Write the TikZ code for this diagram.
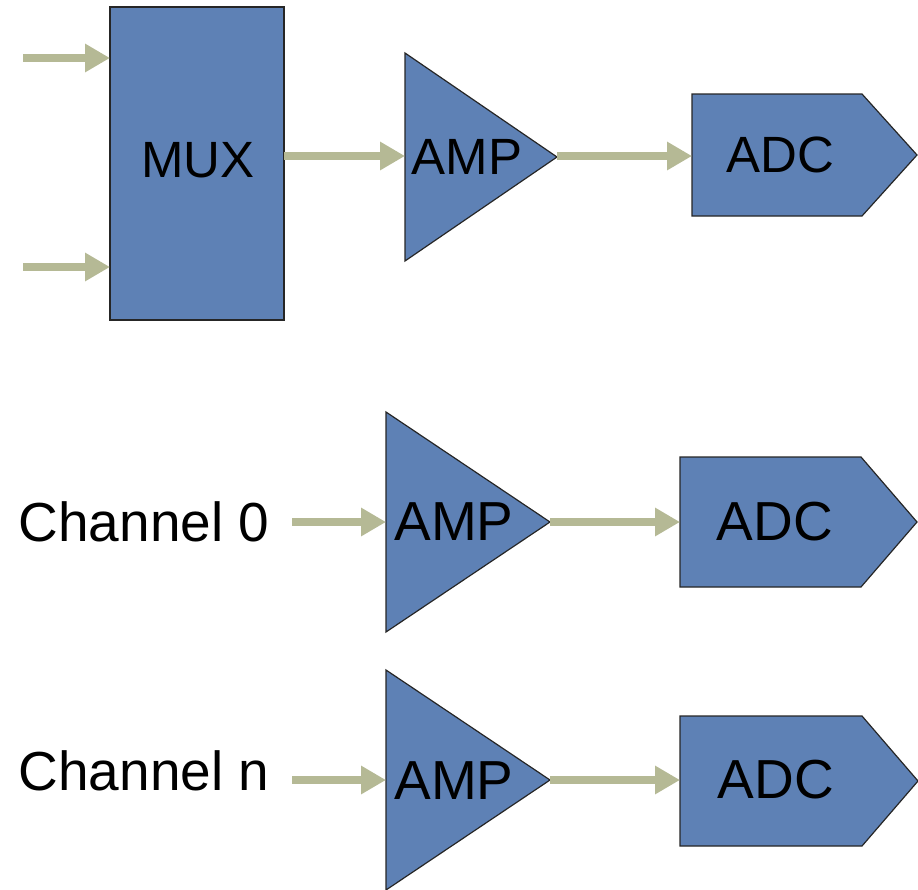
\documentclass[tikz,border=0pt]{standalone}
\usepackage{fontspec}
\setmainfont{Liberation Sans}
\usetikzlibrary{arrows.meta}
\definecolor{blockblue}{RGB}{94,129,181}
\definecolor{wire}{RGB}{181,185,149}
\tikzset{
  block/.style={fill=blockblue, draw=black!85, line width=1.2pt, line join=miter},
  wirearrow/.style={draw=wire, line width=8pt, -{Triangle[length=25pt,width=27pt]}},
  lblsmall/.style={inner sep=0pt, anchor=center, font=\fontsize{51}{60}\selectfont},
  lblbig/.style={inner sep=0pt, anchor=center, font=\fontsize{55}{64}\selectfont},
}
\begin{document}
\begin{tikzpicture}[x=1pt,y=-1pt]
\useasboundingbox (0,0) rectangle (918,889);

% ---- multiplexed chain ----
\draw[block] (110,7) rectangle (284,320);
\node[lblsmall] (mux) at (198,160) {MUX};
\coordinate (src1) at (23,58);
\coordinate (src2) at (23,267);
\coordinate (muxin1) at (110,58);
\coordinate (muxin2) at (110,267);
\coordinate (muxout) at (284,156);

\draw[block] (405,53) -- (405,261) -- (557,157) -- cycle;
\node[lblsmall] (amp1) at (467,157) {AMP};
\coordinate (amp1in) at (405,156);
\coordinate (amp1out) at (557,156);

\draw[block] (692,94) -- (862,94) -- (917,155) -- (862,216) -- (692,216) -- cycle;
\node[lblsmall] (adc1) at (780,155) {ADC};
\coordinate (adc1in) at (692,156);

\draw[wirearrow] (src1) -- (muxin1);
\draw[wirearrow] (src2) -- (muxin2);
\draw[wirearrow] (muxout) -- (amp1in);
\draw[wirearrow] (amp1out) -- (adc1in);

% ---- channel 0 ----
\node[lblbig] (ch0) at (144,522) {Channel 0};
\coordinate (ch0out) at (292,522);

\draw[block] (386,412) -- (386,632) -- (550,522) -- cycle;
\node[lblbig] (amp2) at (454,522) {AMP};
\coordinate (amp2in) at (386,522);
\coordinate (amp2out) at (550,522);

\draw[block] (680,457) -- (861,457) -- (917,522) -- (861,587) -- (680,587) -- cycle;
\node[lblbig] (adc2) at (775,522) {ADC};
\coordinate (adc2in) at (680,522);

\draw[wirearrow] (ch0out) -- (amp2in);
\draw[wirearrow] (amp2out) -- (adc2in);

% ---- channel n ----
\node[lblbig] (chn) at (144,771) {Channel n};
\coordinate (chnout) at (292,780);

\draw[block] (386,670) -- (386,890) -- (550,780) -- cycle;
\node[lblbig] (amp3) at (454,781) {AMP};
\coordinate (amp3in) at (386,780);
\coordinate (amp3out) at (550,780);

\draw[block] (680,716) -- (862,716) -- (918,781) -- (862,846) -- (680,846) -- cycle;
\node[lblbig] (adc3) at (776,780) {ADC};
\coordinate (adc3in) at (680,780);

\draw[wirearrow] (chnout) -- (amp3in);
\draw[wirearrow] (amp3out) -- (adc3in);
\end{tikzpicture}
\end{document}
